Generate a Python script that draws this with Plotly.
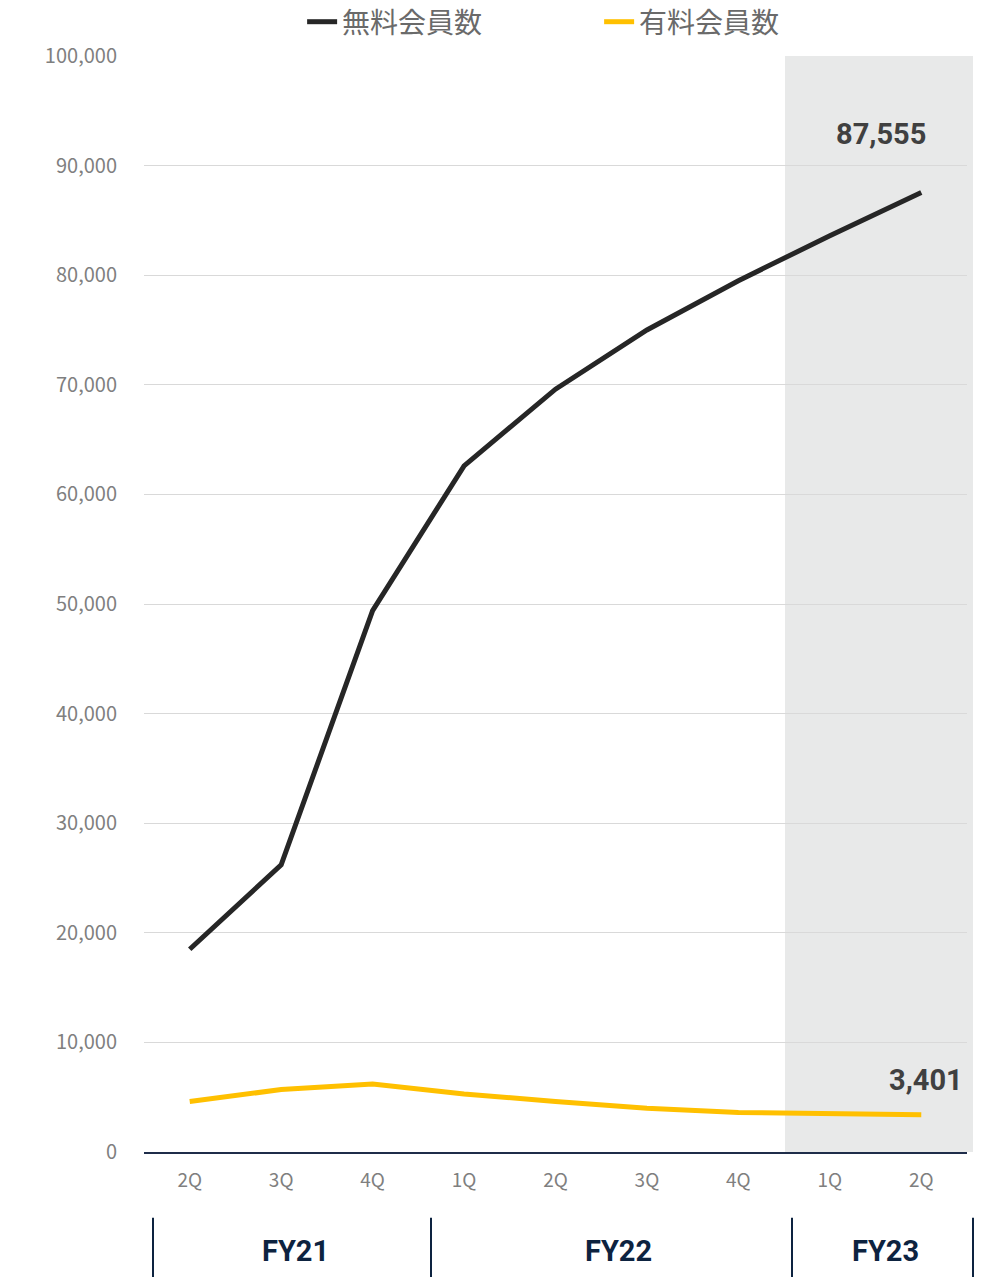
import plotly.graph_objects as go

# Quarter labels and fiscal-year groups
quarters = ["2Q", "3Q", "4Q", "1Q", "2Q", "3Q", "4Q", "1Q", "2Q"]
fiscal_years = ["FY21", "FY22", "FY23"]

# Member counts per quarter
free_members = [18500, 26200, 49400, 62600, 69600, 75000, 79500, 83600, 87555]
paid_members = [4600, 5700, 6200, 5300, 4600, 4000, 3600, 3500, 3401]

y_ticks = list(range(0, 100001, 10000))

x = list(range(len(quarters)))
FONT = "Noto Sans CJK JP"

fig = go.Figure()
fig.add_trace(go.Scatter(x=x, y=free_members, mode="lines", name="無料会員数",
                         line=dict(color="#262626", width=5)))
fig.add_trace(go.Scatter(x=x, y=paid_members, mode="lines", name="有料会員数",
                         line=dict(color="#FFC000", width=5)))

# Shaded current-year band (runs slightly past the right edge of the plot)
fig.add_shape(type="rect", xref="paper", yref="y", x0=(785 - 144) / 823, x1=(973 - 144) / 823,
              y0=0, y1=100000, fillcolor="#E8E9E9", line=dict(width=0), layer="below")

# End-point value labels
fig.add_annotation(x=x[-1], y=free_members[-1], text=f"<b>{free_members[-1]:,}</b>",
                   showarrow=False, xshift=-40, yshift=58,
                   font=dict(family="Roboto", size=29, color="#404040"))
fig.add_annotation(x=x[-1], y=paid_members[-1], text=f"<b>{paid_members[-1]:,}</b>",
                   showarrow=False, xshift=5, yshift=35,
                   font=dict(family="Roboto", size=29, color="#404040"))

# Fiscal-year grouping under the axis
sep_px = [153, 431, 792, 973]
for sx in sep_px:
    px = (sx - 144) / 823
    fig.add_shape(type="line", xref="paper", yref="paper", x0=px, x1=px,
                  y0=-0.06, y1=-0.12, line=dict(color="#0D2340", width=2))
fy_centers = [1.16, 4.69, 7.61]
for fy, cx in zip(fiscal_years, fy_centers):
    fig.add_annotation(x=cx, y=-0.0905, xref="x", yref="paper", text=f"<b>{fy}</b>",
                       showarrow=False, yanchor="middle",
                       font=dict(family="Roboto", size=29, color="#0D2340"))

fig.update_xaxes(range=[-0.5, 8.5], tickmode="array", tickvals=x, ticktext=quarters,
                 showgrid=False, showline=True, linecolor="#1F2D4A", linewidth=2,
                 ticks="", ticklabelstandoff=10,
                 tickfont=dict(family=FONT, size=19, color="#7F7F7F"), zeroline=False)
fig.update_yaxes(range=[0, 100000], tickmode="array", tickvals=y_ticks,
                 ticktext=[f"{v:,}" for v in y_ticks], showgrid=True,
                 gridcolor="#D9D9D9", gridwidth=1, zeroline=False, showline=False,
                 ticks="", ticklabelstandoff=26,
                 tickfont=dict(family=FONT, size=20, color="#7F7F7F"))

fig.update_layout(
    width=989, height=1277,
    margin=dict(l=144, r=22, t=56, b=125, autoexpand=False),
    plot_bgcolor="white", paper_bgcolor="white",
    showlegend=True,
    legend=dict(orientation="h", x=0.553, xanchor="center",
                yref="container", y=1 - 22 / 1277, yanchor="middle",
                font=dict(family=FONT, size=28, color="#6A6A6A"),
                entrywidth=252, bgcolor="rgba(0,0,0,0)"),
)

fig.write_html("out.html")
